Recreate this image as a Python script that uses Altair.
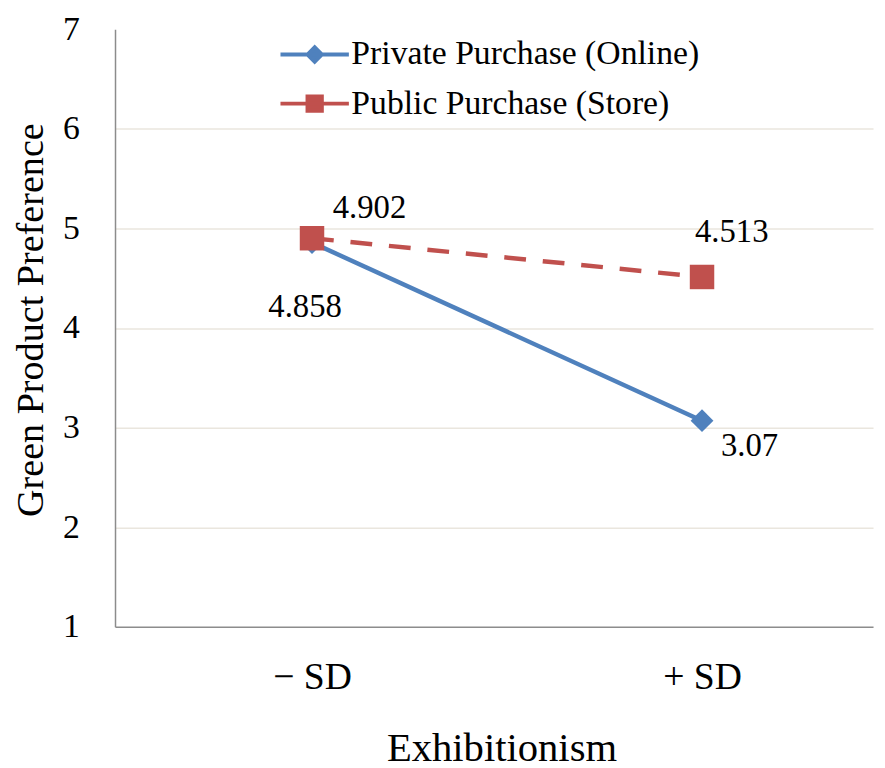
import altair as alt
import pandas as pd

exhibitionism = ["− SD", "+ SD"]
series_names = ["Private Purchase (Online)", "Public Purchase (Store)"]
private_values = [4.858, 3.07]
public_values = [4.902, 4.513]
y_ticks = [1, 2, 3, 4, 5, 6, 7]
colors = ["#4F81BD", "#C0504D"]

rows = []
for s, vals in zip(series_names, [private_values, public_values]):
    for x, v in zip(exhibitionism, vals):
        rows.append({"exhibitionism": x, "series": s, "value": v, "label": f"{v:g}"})
df = pd.DataFrame(rows)

FONT = "Liberation Serif"

x_enc = alt.X(
    "exhibitionism:N",
    sort=exhibitionism,
    scale=alt.Scale(type="point", domain=exhibitionism, padding=0.4718, align=0.5353),
    axis=alt.Axis(
        title="Exhibitionism",
        labelAngle=0,
        labelFont=FONT, labelFontSize=38, labelColor="black",
        labelBaseline="alphabetic", labelPadding=62,
        ticks=False, tickSize=0,
        domainColor="#8C8C8C", domainWidth=1.5,
        grid=False,
        titleFont=FONT, titleFontSize=41, titleFontWeight="normal", titleColor="black",
        titleBaseline="alphabetic", titleAlign="center", titleX=390, titleY=135,
    ),
)
y_enc = alt.Y(
    "value:Q",
    scale=alt.Scale(domain=[1, 7], nice=False, zero=False),
    axis=alt.Axis(
        values=y_ticks,
        title="Green Product Preference",
        labelFont=FONT, labelFontSize=34, labelColor="black",
        labelPadding=36, labelBaseline="middle",
        ticks=False, tickSize=0,
        domainColor="#8C8C8C", domainWidth=1.5,
        grid=True,
        gridColor={"condition": {"test": "datum.value >= 7 || datum.value <= 1", "value": "transparent"}, "value": "#EAE6DE"},
        gridWidth=1.5,
        titleFont=FONT, titleFontSize=38.5, titleFontWeight="normal", titleColor="black",
        titleAngle=-90, titleBaseline="alphabetic", titleAlign="center",
        titleX=-73, titleY=293,
    ),
)

base = alt.Chart(df)

line_private = base.mark_line(strokeWidth=4.5, color=colors[0]).encode(
    x=x_enc, y=y_enc,
).transform_filter(f"datum.series === '{series_names[0]}'")
line_public = base.mark_line(strokeWidth=4.5, color=colors[1], strokeDash=[22, 17]).encode(
    x=x_enc, y=y_enc,
).transform_filter(f"datum.series === '{series_names[1]}'")

points_private = base.mark_point(filled=True, opacity=1, strokeWidth=0, shape="diamond", size=529, color=colors[0]).encode(
    x=x_enc, y=y_enc,
).transform_filter(f"datum.series === '{series_names[0]}'")
points_public = base.mark_point(filled=True, opacity=1, strokeWidth=0, shape="square", size=610, color=colors[1]).encode(
    x=x_enc, y=y_enc,
).transform_filter(f"datum.series === '{series_names[1]}'")

legend_paths = [
    "M-4.06,0L4.06,0M-0.85,0L0,-0.85L0.85,0L0,0.85Z",
    "M-4.06,0L4.06,0M-0.85,-0.85L0.85,-0.85L0.85,0.85L-0.85,0.85Z",
]
leg = alt.Legend(
    orient="none", legendX=184.5, legendY=8.5, title=None,
    labelFont=FONT, labelFontSize=34, labelColor="black", labelLimit=600,
    labelOffset=20, rowPadding=15.5, padding=0,
    symbolSize=289, symbolStrokeWidth=4, symbolOpacity=1, direction="vertical",
)
legend_layer = base.mark_point(filled=True, opacity=0, size=289, strokeWidth=4).encode(
    x=x_enc, y=y_enc,
    fill=alt.Fill("series:N", scale=alt.Scale(domain=series_names, range=colors), title=None, legend=leg),
    stroke=alt.Stroke("series:N", scale=alt.Scale(domain=series_names, range=colors), title=None, legend=leg),
    shape=alt.Shape("series:N", scale=alt.Scale(domain=series_names, range=legend_paths), title=None, legend=leg),
)

label_offsets = {
    ("Public Purchase (Store)", "− SD"): (58, -20),
    ("Private Purchase (Online)", "− SD"): (-7, 75),
    ("Public Purchase (Store)", "+ SD"): (30, -35),
    ("Private Purchase (Online)", "+ SD"): (48, 36),
}
texts = []
for (s, xcat), (dx, dy) in label_offsets.items():
    texts.append(
        base.mark_text(font=FONT, fontSize=33, color="black", align="center", baseline="alphabetic", dx=dx, dy=dy)
        .encode(x=x_enc, y=y_enc, text="label:N")
        .transform_filter(f"datum.series === '{s}' && datum.exhibitionism === '{xcat}'")
    )

chart = alt.layer(legend_layer, line_private, points_private, line_public, points_public, *texts).properties(
    width=765, height=603,
    autosize=alt.AutoSizeParams(type="none"),
    padding={"left": 108, "top": 18, "right": 4, "bottom": 142},
    background="white",
).configure_view(stroke=None)

chart.save("out.html", embed_options={"renderer": "svg", "actions": False})
